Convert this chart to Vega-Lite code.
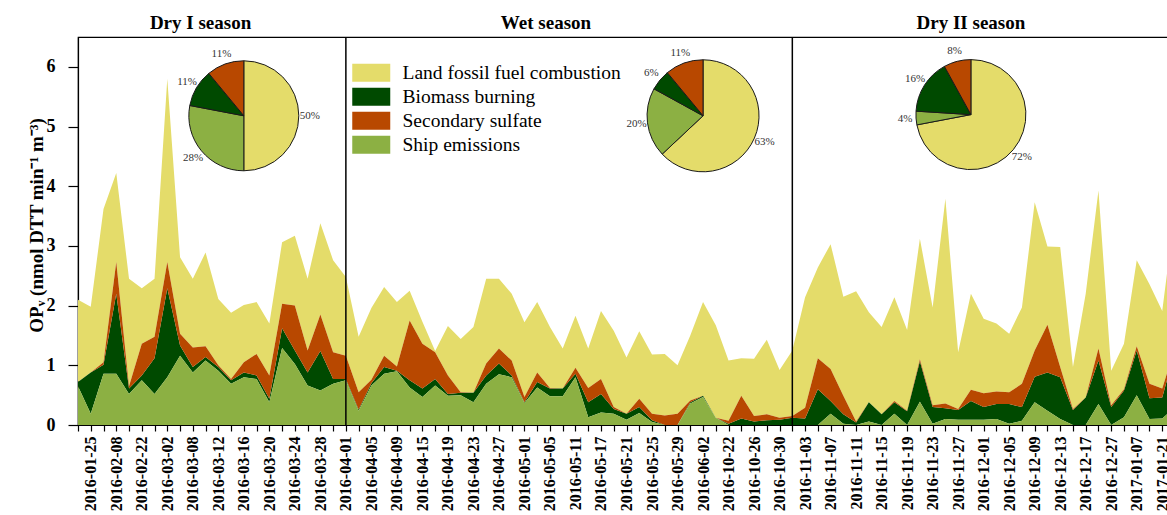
{
  "$schema": "https://vega.github.io/schema/vega-lite/v6.json",
  "width": 1097,
  "height": 388,
  "autosize": {"type": "none"},
  "padding": {"left": 78, "top": 37, "right": -8, "bottom": 90},
  "background": "white",
  "config": {
    "font": "Liberation Serif",
    "view": {"stroke": "black", "strokeWidth": 1.2},
    "axis": {"domainColor": "black", "tickColor": "black", "labelColor": "black", "titleColor": "black", "grid": false, "domainWidth": 1.2, "tickWidth": 1.2}
  },
  "datasets": {
    "sources": [
      {"key": "ship", "source": "Ship emissions", "rank": 1},
      {"key": "bio", "source": "Biomass burning", "rank": 2},
      {"key": "sul", "source": "Secondary sulfate", "rank": 3},
      {"key": "land", "source": "Land fossil fuel combustion", "rank": 4}
    ],
    "pies": [
      {"season": "Dry I", "source": "Land fossil fuel combustion", "share": 0.50, "slice": 1},
      {"season": "Dry I", "source": "Ship emissions", "share": 0.28, "slice": 2},
      {"season": "Dry I", "source": "Biomass burning", "share": 0.11, "slice": 3},
      {"season": "Dry I", "source": "Secondary sulfate", "share": 0.11, "slice": 4},
      {"season": "Wet", "source": "Land fossil fuel combustion", "share": 0.63, "slice": 1},
      {"season": "Wet", "source": "Ship emissions", "share": 0.20, "slice": 2},
      {"season": "Wet", "source": "Biomass burning", "share": 0.06, "slice": 3},
      {"season": "Wet", "source": "Secondary sulfate", "share": 0.11, "slice": 4},
      {"season": "Dry II", "source": "Land fossil fuel combustion", "share": 0.72, "slice": 1},
      {"season": "Dry II", "source": "Ship emissions", "share": 0.04, "slice": 2},
      {"season": "Dry II", "source": "Biomass burning", "share": 0.16, "slice": 3},
      {"season": "Dry II", "source": "Secondary sulfate", "share": 0.08, "slice": 4}
    ],
    "samples": [
      {"date": "2016-01-18", "ship": 0.65, "bio": 0.07, "sul": 0.00, "land": 1.38},
      {"date": "2016-01-25", "ship": 0.19, "bio": 0.69, "sul": 0.00, "land": 1.10},
      {"date": "2016-02-01", "ship": 0.86, "bio": 0.15, "sul": 0.04, "land": 2.57},
      {"date": "2016-02-08", "ship": 0.86, "bio": 1.34, "sul": 0.53, "land": 1.49},
      {"date": "2016-02-15", "ship": 0.52, "bio": 0.09, "sul": 0.04, "land": 1.80},
      {"date": "2016-02-22", "ship": 0.75, "bio": 0.08, "sul": 0.53, "land": 0.93},
      {"date": "2016-02-26", "ship": 0.52, "bio": 0.60, "sul": 0.36, "land": 0.97},
      {"date": "2016-03-02", "ship": 0.80, "bio": 1.49, "sul": 0.44, "land": 3.07},
      {"date": "2016-03-05", "ship": 1.16, "bio": 0.17, "sul": 0.20, "land": 1.28},
      {"date": "2016-03-08", "ship": 0.88, "bio": 0.09, "sul": 0.33, "land": 1.15},
      {"date": "2016-03-10", "ship": 1.08, "bio": 0.06, "sul": 0.18, "land": 1.57},
      {"date": "2016-03-12", "ship": 0.91, "bio": 0.06, "sul": 0.03, "land": 1.11},
      {"date": "2016-03-14", "ship": 0.69, "bio": 0.06, "sul": 0.02, "land": 1.11},
      {"date": "2016-03-16", "ship": 0.80, "bio": 0.08, "sul": 0.17, "land": 0.96},
      {"date": "2016-03-18", "ship": 0.77, "bio": 0.06, "sul": 0.36, "land": 0.87},
      {"date": "2016-03-20", "ship": 0.38, "bio": 0.06, "sul": 0.39, "land": 0.87},
      {"date": "2016-03-22", "ship": 1.29, "bio": 0.33, "sul": 0.41, "land": 1.03},
      {"date": "2016-03-24", "ship": 1.02, "bio": 0.23, "sul": 0.75, "land": 1.17},
      {"date": "2016-03-26", "ship": 0.66, "bio": 0.22, "sul": 0.37, "land": 1.20},
      {"date": "2016-03-28", "ship": 0.58, "bio": 0.66, "sul": 0.61, "land": 1.53},
      {"date": "2016-03-30", "ship": 0.69, "bio": 0.08, "sul": 0.45, "land": 1.54},
      {"date": "2016-04-01", "ship": 0.75, "bio": 0.02, "sul": 0.39, "land": 1.32},
      {"date": "2016-04-03", "ship": 0.24, "bio": 0.02, "sul": 0.29, "land": 0.93},
      {"date": "2016-04-05", "ship": 0.66, "bio": 0.04, "sul": 0.06, "land": 1.20},
      {"date": "2016-04-07", "ship": 0.86, "bio": 0.11, "sul": 0.19, "land": 1.15},
      {"date": "2016-04-09", "ship": 0.90, "bio": 0.01, "sul": 0.07, "land": 1.08},
      {"date": "2016-04-13", "ship": 0.63, "bio": 0.12, "sul": 1.00, "land": 0.50},
      {"date": "2016-04-15", "ship": 0.47, "bio": 0.14, "sul": 0.75, "land": 0.37},
      {"date": "2016-04-17", "ship": 0.66, "bio": 0.11, "sul": 0.45, "land": 0.02},
      {"date": "2016-04-19", "ship": 0.49, "bio": 0.03, "sul": 0.31, "land": 0.83},
      {"date": "2016-04-21", "ship": 0.50, "bio": 0.04, "sul": 0.01, "land": 0.89},
      {"date": "2016-04-23", "ship": 0.38, "bio": 0.16, "sul": 0.00, "land": 1.10},
      {"date": "2016-04-25", "ship": 0.69, "bio": 0.14, "sul": 0.20, "land": 1.42},
      {"date": "2016-04-27", "ship": 0.85, "bio": 0.18, "sul": 0.25, "land": 1.17},
      {"date": "2016-04-29", "ship": 0.80, "bio": 0.03, "sul": 0.25, "land": 1.12},
      {"date": "2016-05-01", "ship": 0.37, "bio": 0.01, "sul": 0.09, "land": 1.25},
      {"date": "2016-05-03", "ship": 0.63, "bio": 0.09, "sul": 0.16, "land": 1.18},
      {"date": "2016-05-05", "ship": 0.48, "bio": 0.13, "sul": 0.01, "land": 1.02},
      {"date": "2016-05-09", "ship": 0.48, "bio": 0.13, "sul": 0.00, "land": 0.67},
      {"date": "2016-05-11", "ship": 0.80, "bio": 0.06, "sul": 0.10, "land": 0.87},
      {"date": "2016-05-15", "ship": 0.13, "bio": 0.25, "sul": 0.24, "land": 0.66},
      {"date": "2016-05-17", "ship": 0.21, "bio": 0.31, "sul": 0.25, "land": 1.14},
      {"date": "2016-05-19", "ship": 0.19, "bio": 0.08, "sul": 0.03, "land": 1.28},
      {"date": "2016-05-21", "ship": 0.09, "bio": 0.10, "sul": 0.00, "land": 0.94},
      {"date": "2016-05-23", "ship": 0.20, "bio": 0.10, "sul": 0.14, "land": 1.13},
      {"date": "2016-05-25", "ship": 0.05, "bio": 0.03, "sul": 0.11, "land": 0.99},
      {"date": "2016-05-27", "ship": 0.00, "bio": 0.00, "sul": 0.16, "land": 1.03},
      {"date": "2016-05-29", "ship": 0.00, "bio": 0.00, "sul": 0.19, "land": 0.81},
      {"date": "2016-05-31", "ship": 0.36, "bio": 0.02, "sul": 0.03, "land": 1.09},
      {"date": "2016-06-02", "ship": 0.47, "bio": 0.02, "sul": 0.00, "land": 1.57},
      {"date": "2016-06-06", "ship": 0.12, "bio": 0.00, "sul": 0.00, "land": 1.55},
      {"date": "2016-10-22", "ship": 0.00, "bio": 0.02, "sul": 0.05, "land": 1.01},
      {"date": "2016-10-24", "ship": 0.00, "bio": 0.11, "sul": 0.38, "land": 0.63},
      {"date": "2016-10-26", "ship": 0.00, "bio": 0.06, "sul": 0.09, "land": 0.96},
      {"date": "2016-10-28", "ship": 0.00, "bio": 0.08, "sul": 0.10, "land": 1.25},
      {"date": "2016-10-30", "ship": 0.00, "bio": 0.09, "sul": 0.03, "land": 0.80},
      {"date": "2016-11-01", "ship": 0.00, "bio": 0.12, "sul": 0.03, "land": 1.10},
      {"date": "2016-11-03", "ship": 0.00, "bio": 0.11, "sul": 0.18, "land": 1.85},
      {"date": "2016-11-05", "ship": 0.00, "bio": 0.60, "sul": 0.52, "land": 1.52},
      {"date": "2016-11-07", "ship": 0.19, "bio": 0.21, "sul": 0.54, "land": 2.09},
      {"date": "2016-11-09", "ship": 0.02, "bio": 0.16, "sul": 0.31, "land": 1.66},
      {"date": "2016-11-11", "ship": 0.00, "bio": 0.04, "sul": 0.02, "land": 2.18},
      {"date": "2016-11-13", "ship": 0.06, "bio": 0.32, "sul": 0.00, "land": 1.51},
      {"date": "2016-11-15", "ship": 0.00, "bio": 0.18, "sul": 0.00, "land": 1.46},
      {"date": "2016-11-17", "ship": 0.19, "bio": 0.19, "sul": 0.02, "land": 1.74},
      {"date": "2016-11-19", "ship": 0.00, "bio": 0.23, "sul": 0.01, "land": 1.35},
      {"date": "2016-11-21", "ship": 0.39, "bio": 0.68, "sul": 0.03, "land": 2.02},
      {"date": "2016-11-23", "ship": 0.02, "bio": 0.28, "sul": 0.03, "land": 1.64},
      {"date": "2016-11-25", "ship": 0.10, "bio": 0.18, "sul": 0.08, "land": 3.43},
      {"date": "2016-11-27", "ship": 0.09, "bio": 0.16, "sul": 0.02, "land": 0.95},
      {"date": "2016-11-29", "ship": 0.09, "bio": 0.31, "sul": 0.19, "land": 1.61},
      {"date": "2016-12-01", "ship": 0.09, "bio": 0.21, "sul": 0.23, "land": 1.25},
      {"date": "2016-12-03", "ship": 0.10, "bio": 0.25, "sul": 0.21, "land": 1.14},
      {"date": "2016-12-05", "ship": 0.02, "bio": 0.33, "sul": 0.20, "land": 0.98},
      {"date": "2016-12-07", "ship": 0.07, "bio": 0.23, "sul": 0.39, "land": 1.28},
      {"date": "2016-12-09", "ship": 0.38, "bio": 0.43, "sul": 0.44, "land": 2.48},
      {"date": "2016-12-11", "ship": 0.24, "bio": 0.64, "sul": 0.80, "land": 1.31},
      {"date": "2016-12-13", "ship": 0.10, "bio": 0.70, "sul": 0.17, "land": 2.01},
      {"date": "2016-12-15", "ship": 0.00, "bio": 0.25, "sul": 0.02, "land": 0.70},
      {"date": "2016-12-17", "ship": 0.00, "bio": 0.46, "sul": 0.00, "land": 1.74},
      {"date": "2016-12-21", "ship": 0.35, "bio": 0.73, "sul": 0.20, "land": 2.65},
      {"date": "2016-12-27", "ship": 0.00, "bio": 0.30, "sul": 0.03, "land": 0.58},
      {"date": "2017-01-01", "ship": 0.13, "bio": 0.45, "sul": 0.02, "land": 0.76},
      {"date": "2017-01-07", "ship": 0.50, "bio": 0.75, "sul": 0.07, "land": 1.44},
      {"date": "2017-01-14", "ship": 0.10, "bio": 0.35, "sul": 0.24, "land": 1.67},
      {"date": "2017-01-21", "ship": 0.11, "bio": 0.35, "sul": 0.15, "land": 1.30},
      {"date": "2017-01-28", "ship": 0.30, "bio": 0.95, "sul": 0.05, "land": 2.30}
    ]
  },
  "layer": [
    {
      "data": {"name": "samples"},
      "transform": [
        {"fold": ["land", "bio", "sul", "ship"], "as": ["key", "value"]},
        {"lookup": "key", "from": {"data": {"name": "sources"}, "key": "key", "fields": ["source", "rank"]}}
      ],
      "mark": {"type": "area", "interpolate": "linear"},
      "encoding": {
        "x": {
          "field": "date", "type": "ordinal",
          "scale": {"type": "point", "padding": 0},
          "axis": {
            "title": null, "labelAngle": -90, "labelFontSize": 16, "labelFontWeight": "bold",
            "labelFont": "Liberation Serif", "tickSize": 6, "labelPadding": 5, "labelOverlap": false,
            "labelExpr": "indexof(['2016-01-25','2016-02-08','2016-02-22','2016-03-02','2016-03-08','2016-03-12','2016-03-16','2016-03-20','2016-03-24','2016-03-28','2016-04-01','2016-04-05','2016-04-09','2016-04-15','2016-04-19','2016-04-23','2016-04-27','2016-05-01','2016-05-05','2016-05-11','2016-05-17','2016-05-21','2016-05-25','2016-05-29','2016-06-02','2016-10-22','2016-10-26','2016-10-30','2016-11-03','2016-11-07','2016-11-11','2016-11-15','2016-11-19','2016-11-23','2016-11-27','2016-12-01','2016-12-05','2016-12-09','2016-12-13','2016-12-17','2016-12-27','2017-01-07','2017-01-21'], datum.value) >= 0 ? datum.value : ''"
          }
        },
        "y": {
          "field": "value", "type": "quantitative", "stack": "zero",
          "scale": {"domain": [0, 6.5], "nice": false},
          "axis": {
            "values": [0, 1, 2, 3, 4, 5, 6], "format": "d", "labelFontSize": 18, "labelFontWeight": "bold",
            "labelFont": "Liberation Serif", "tickSize": 10, "labelPadding": 13,
            "title": "OPᵥ (nmol DTT min⁻¹ m⁻³)", "titleFont": "Liberation Serif", "titleFontSize": 19,
            "titleFontWeight": "bold", "titleX": -42, "titleY": 188, "titleBaseline": "middle"
          }
        },
        "color": {
          "field": "source", "type": "nominal",
          "scale": {
            "domain": ["Land fossil fuel combustion", "Biomass burning", "Secondary sulfate", "Ship emissions"],
            "range": ["#E4DC6A", "#004A00", "#B84800", "#8CB043"]
          },
          "legend": {
            "orient": "none", "legendX": 283.5, "legendY": 26, "title": null,
            "symbolType": "M-2,-0.95H2V0.95H-2Z", "symbolSize": 361, "symbolStrokeWidth": 0,
            "labelFont": "Liberation Serif", "labelFontSize": 19.5, "labelColor": "black", "labelLimit": 500,
            "rowPadding": 3, "labelOffset": 21.5
          }
        },
        "order": {"field": "rank", "type": "quantitative"}
      }
    },
    {
      "data": {"values": [{}]},
      "mark": {"type": "rule", "color": "black", "strokeWidth": 1.5},
      "encoding": {"x": {"datum": "2016-04-01"}}
    },
    {
      "data": {"values": [{}]},
      "mark": {"type": "rule", "color": "black", "strokeWidth": 1.5},
      "encoding": {"x": {"datum": "2016-11-01"}}
    },
    {
      "data": {"values": [{"label": "Dry I season"}]},
      "mark": {"type": "text", "font": "Liberation Serif", "fontSize": 19, "fontWeight": "bold", "color": "black", "dx": -5},
      "encoding": {"x": {"datum": "2016-03-10"}, "y": {"datum": 6.74}, "text": {"field": "label"}}
    },
    {
      "data": {"values": [{"label": "Wet season"}]},
      "mark": {"type": "text", "font": "Liberation Serif", "fontSize": 19, "fontWeight": "bold", "color": "black", "dx": -4},
      "encoding": {"x": {"datum": "2016-05-05"}, "y": {"datum": 6.74}, "text": {"field": "label"}}
    },
    {
      "data": {"values": [{"label": "Dry II season"}]},
      "mark": {"type": "text", "font": "Liberation Serif", "fontSize": 19, "fontWeight": "bold", "color": "black"},
      "encoding": {"x": {"datum": "2016-11-29"}, "y": {"datum": 6.74}, "text": {"field": "label"}}
    },
    {
      "data": {"name": "pies"},
      "transform": [{"filter": "datum.season === 'Dry I'"}],
      "mark": {"type": "arc", "outerRadius": 55, "stroke": "#1a1a1a", "strokeWidth": 1},
      "encoding": {
        "x": {"datum": "2016-03-16"}, "y": {"datum": 5.18},
        "theta": {"field": "share", "type": "quantitative", "stack": true},
        "color": {"field": "source", "type": "nominal"},
        "order": {"field": "slice", "type": "quantitative"}
      }
    },
    {
      "data": {"name": "pies"},
      "transform": [{"filter": "datum.season === 'Dry I'"}],
      "mark": {"type": "text", "radius": 66, "font": "Liberation Serif", "fontSize": 11, "color": "#333"},
      "encoding": {
        "x": {"datum": "2016-03-16"}, "y": {"datum": 5.18},
        "theta": {"field": "share", "type": "quantitative", "stack": true},
        "detail": {"field": "source"},
        "order": {"field": "slice", "type": "quantitative"},
        "text": {"field": "share", "type": "quantitative", "format": ".0%"}
      }
    },
    {
      "data": {"name": "pies"},
      "transform": [{"filter": "datum.season === 'Wet'"}],
      "mark": {"type": "arc", "outerRadius": 56, "stroke": "#1a1a1a", "strokeWidth": 1},
      "encoding": {
        "x": {"datum": "2016-06-02"}, "y": {"datum": 5.18},
        "theta": {"field": "share", "type": "quantitative", "stack": true},
        "color": {"field": "source", "type": "nominal"},
        "order": {"field": "slice", "type": "quantitative"}
      }
    },
    {
      "data": {"name": "pies"},
      "transform": [{"filter": "datum.season === 'Wet'"}],
      "mark": {"type": "text", "radius": 67, "font": "Liberation Serif", "fontSize": 11, "color": "#333"},
      "encoding": {
        "x": {"datum": "2016-06-02"}, "y": {"datum": 5.18},
        "theta": {"field": "share", "type": "quantitative", "stack": true},
        "detail": {"field": "source"},
        "order": {"field": "slice", "type": "quantitative"},
        "text": {"field": "share", "type": "quantitative", "format": ".0%"}
      }
    },
    {
      "data": {"name": "pies"},
      "transform": [{"filter": "datum.season === 'Dry II'"}],
      "mark": {"type": "arc", "outerRadius": 55, "stroke": "#1a1a1a", "strokeWidth": 1},
      "encoding": {
        "x": {"datum": "2016-11-29"}, "y": {"datum": 5.2},
        "theta": {"field": "share", "type": "quantitative", "stack": true},
        "color": {"field": "source", "type": "nominal"},
        "order": {"field": "slice", "type": "quantitative"}
      }
    },
    {
      "data": {"name": "pies"},
      "transform": [{"filter": "datum.season === 'Dry II'"}],
      "mark": {"type": "text", "radius": 66, "font": "Liberation Serif", "fontSize": 11, "color": "#333"},
      "encoding": {
        "x": {"datum": "2016-11-29"}, "y": {"datum": 5.2},
        "theta": {"field": "share", "type": "quantitative", "stack": true},
        "detail": {"field": "source"},
        "order": {"field": "slice", "type": "quantitative"},
        "text": {"field": "share", "type": "quantitative", "format": ".0%"}
      }
    }
  ]
}
